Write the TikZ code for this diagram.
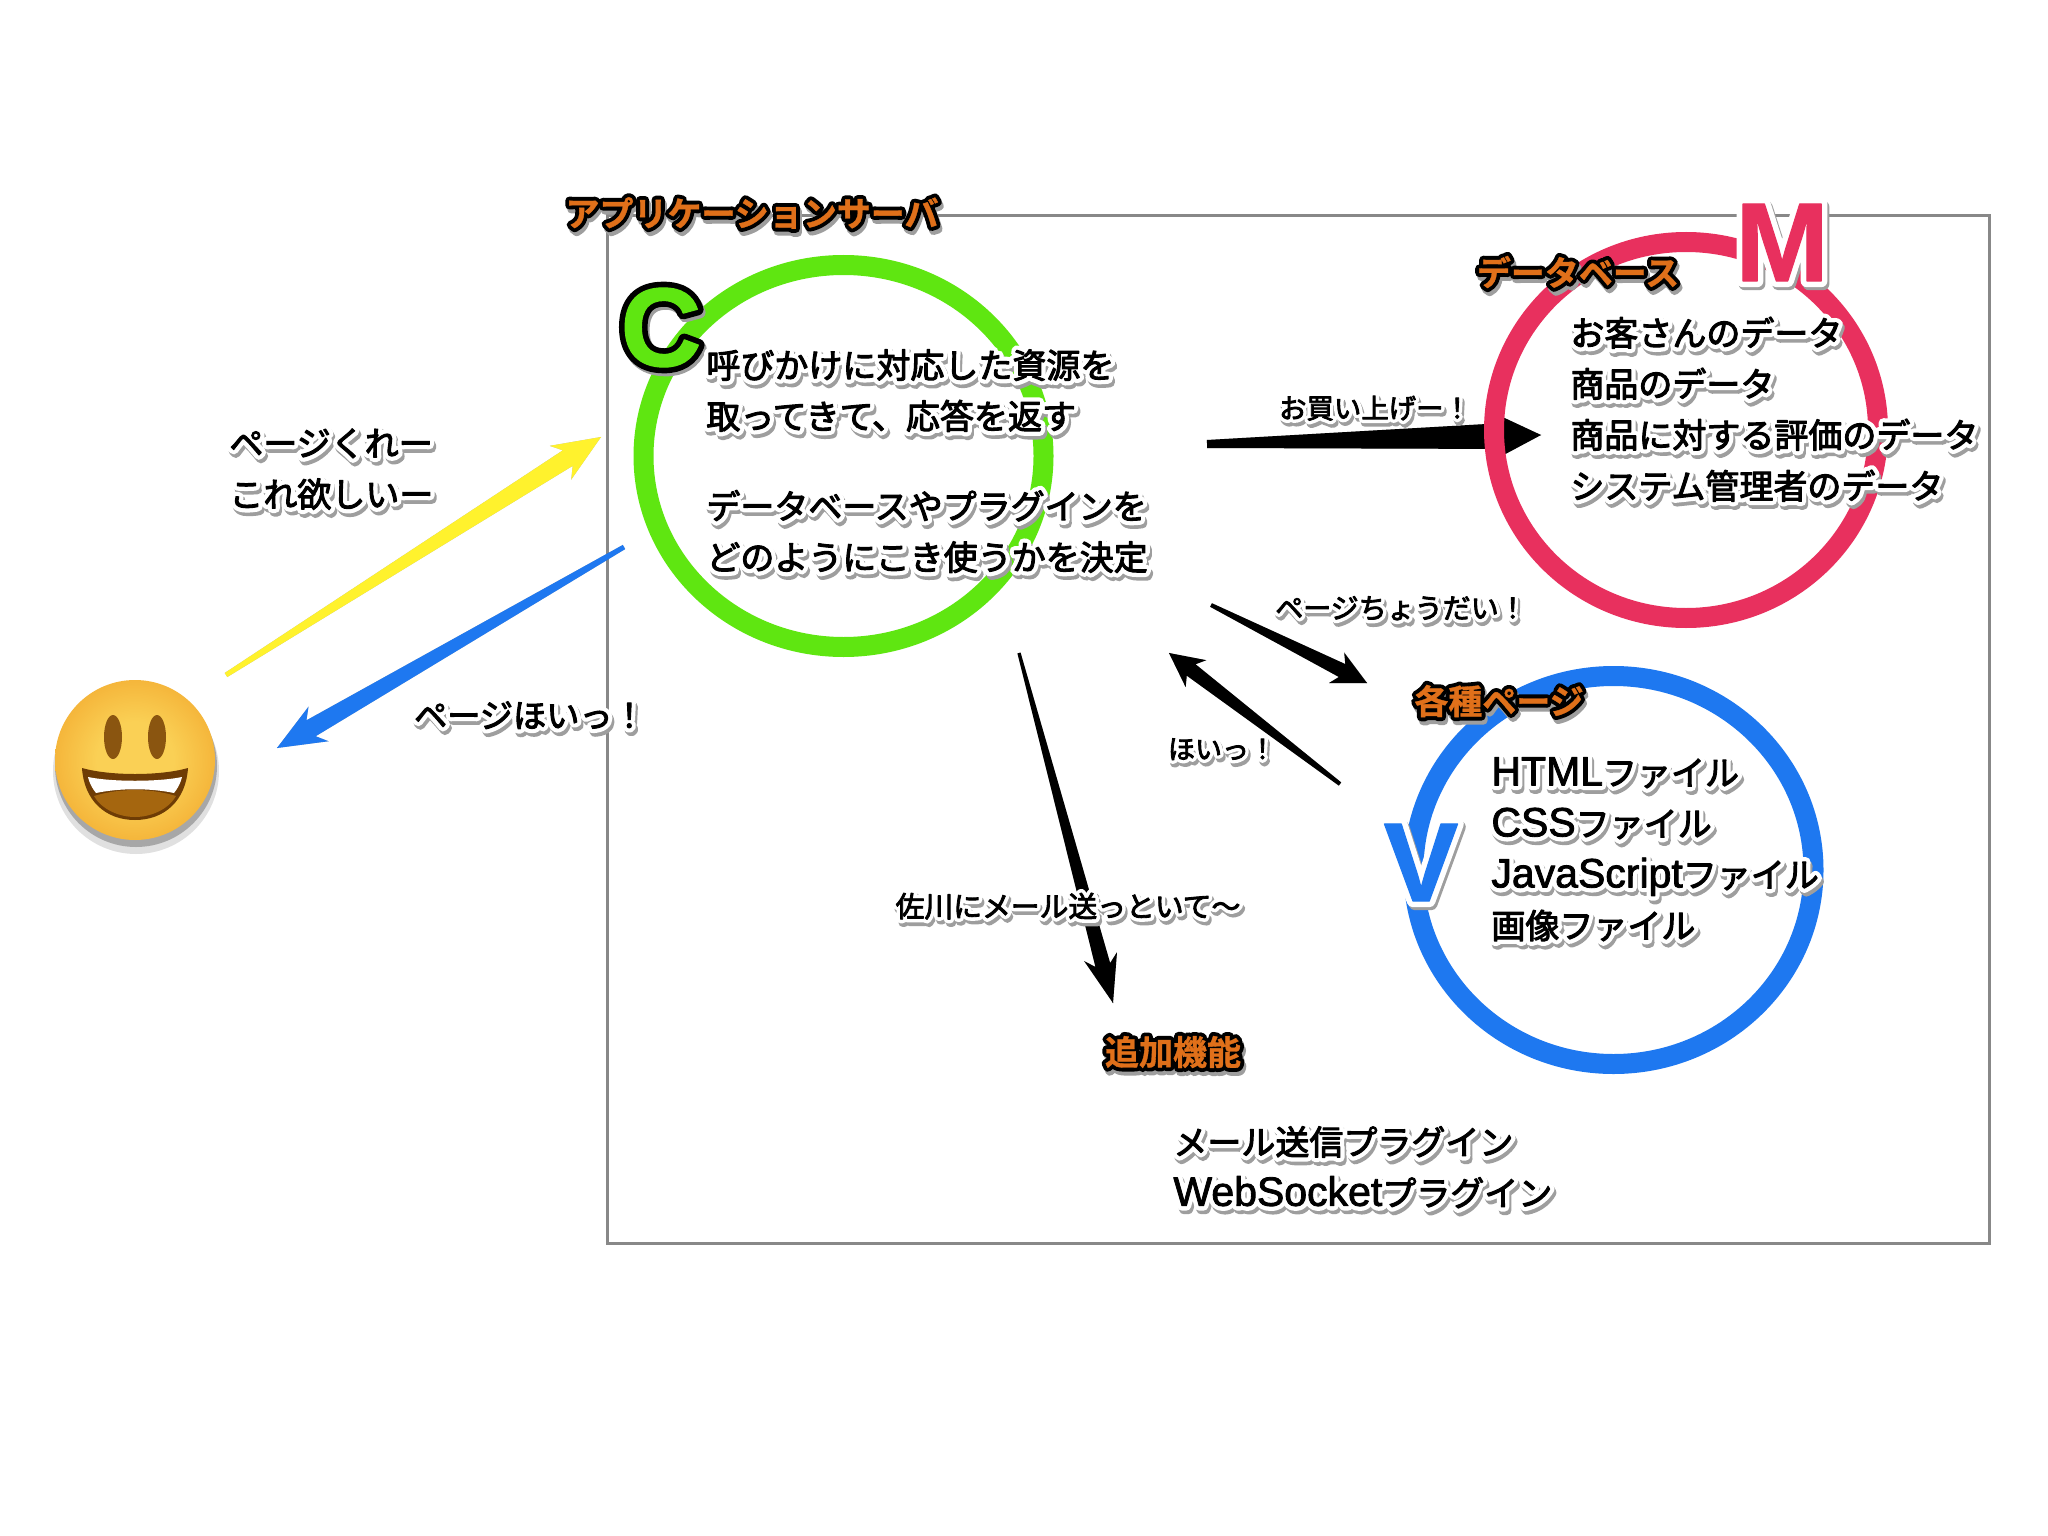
\documentclass[tikz,border=0pt]{standalone}
\usepackage{fontspec}
\usetikzlibrary{shapes.geometric,arrows.meta,calc}
\newfontfamily\jpf[FakeBold=3]{Noto Sans CJK JP}
\newfontfamily\jpo[FakeBold=28]{Noto Sans CJK JP}
\newfontfamily\jph[FakeBold=24]{Noto Sans CJK JP Bold}
\newfontfamily\jpb[FakeBold=1]{Noto Sans CJK JP Bold}
\newfontfamily\ltf[FakeBold=11]{Liberation Sans Bold}
\newfontfamily\ltp[FakeBold=1]{Liberation Sans Bold}
\newfontfamily\lnt[FakeBold=2]{Liberation Sans}
\newfontfamily\lno[FakeBold=23]{Liberation Sans}
\definecolor{shadowc}{gray}{0.62}
\definecolor{orangec}{HTML}{E0701A}
\definecolor{greenc}{HTML}{5FE611}
\definecolor{redc}{HTML}{E8305E}
\definecolor{bluec}{HTML}{1E78F0}
\definecolor{yellowc}{HTML}{FFF22D}
\definecolor{framec}{HTML}{888888}
\definecolor{facein}{HTML}{FAD055}
\definecolor{facemid}{HTML}{F4B237}
\definecolor{faceout}{HTML}{E5861E}
\definecolor{eyec}{HTML}{8A5510}
\definecolor{mouthc}{HTML}{A5660F}
\definecolor{lipc}{HTML}{6E3C05}
\pgfdeclareradialshading{facesh}{\pgfpoint{0bp}{0bp}}{color(0bp)=(facein);color(12bp)=(facein);color(27bp)=(facemid);color(35bp)=(faceout);color(100bp)=(faceout)}
\newcommand\roundj{\special{pdf:code 1 j 1 J}}
\let\curlat\lnt
\newcommand\la[1]{{\curlat\fontsize{20.5}{25.5}\selectfont #1}}
% body text: white halo and soft grey shadow
\newcommand\bt[1]{\leavevmode\roundj\rlap{\let\curlat\lno\kern1pt\raisebox{-1.8pt}{\color{shadowc}\jpo #1}}\rlap{\let\curlat\lno\color{white}\jpo #1}{\color{black}#1}}
% heading: orange with black outline
\newcommand\hd[1]{\leavevmode\roundj\rlap{\kern1pt\raisebox{-2pt}{\color{shadowc}\jph #1}}\rlap{\color{black}\jph #1}{\color{orangec}\jpb #1}}
% letter: coloured with outline
\newcommand\lt[3]{\leavevmode\roundj\rlap{\kern1pt\raisebox{-1.5pt}{\color{shadowc}\ltf #3}}\rlap{\color{#2}\ltf #3}{\color{#1}\ltp #3}}
\newcommand\fs[1]{\fontsize{#1}{25.5}\selectfont}
% tapered connector: #1 from, #2 to, #3 colour, #4 thin half width, #5 thick half width, #6 head length, #7 head half width
\newcommand\conn[7]{%
  \coordinate (sA) at ($(#2)!#6!(#1)$);
  \coordinate (sN) at ($(sA)!.18!(#2)$);
  \begin{scope}[shift={(3,8)},opacity=.28]
    \fill[black] ($(#1)!#4!90:(#2)$) -- ($(sN)!#5!-90:(#1)$) -- ($(sA)!#7!-90:(#1)$) -- (#2) -- ($(sA)!#7!90:(#1)$) -- ($(sN)!#5!90:(#1)$) -- ($(#1)!#4!-90:(#2)$) -- cycle;
  \end{scope}
  \draw[#3,line width=.2pt] (#1) -- (#2);
  \fill[#3] ($(#1)!#4!90:(#2)$) -- ($(sN)!#5!-90:(#1)$) -- ($(sA)!#7!-90:(#1)$) -- (#2) -- ($(sA)!#7!90:(#1)$) -- ($(sN)!#5!90:(#1)$) -- ($(#1)!#4!-90:(#2)$) -- cycle;
}
\tikzset{
  txt/.style={inner sep=0pt,anchor=center,font=\jpf\fs{17},align=left},
  ring/.style={ellipse,draw,inner sep=0pt},
  eye/.style={ellipse,fill=eyec,minimum width=9pt,minimum height=22pt,inner sep=0pt},
  letter/.style={inner sep=0pt,font=\fontsize{56}{56}\selectfont},
}
\begin{document}
\begin{tikzpicture}[x=0.5pt,y=-0.5pt]
\useasboundingbox (0,0) rectangle (2048,1535);
\fill[white] (0,0) rectangle (2048,1535);
% server frame
\node[draw=framec,line width=1.5pt,minimum width=691pt,minimum height=513.5pt,inner sep=0pt] (server) at (1298,729.5) {};
% free ends
\coordinate (yA) at (226,675); \coordinate (yB) at (601,437);
\coordinate (bA) at (624,547); \coordinate (bB) at (277,748);
\coordinate (kA) at (1207,444); \coordinate (kB) at (1541,435);
\coordinate (pA) at (1211,605); \coordinate (pB) at (1367,683);
\coordinate (hA) at (1340,784); \coordinate (hB) at (1169,653);
\coordinate (mA) at (1019,653); \coordinate (mB) at (1113,1003);
\conn{yA}{yB}{yellowc}{1.2pt}{4.6pt}{24pt}{10pt}
\conn{bA}{bB}{bluec}{1.2pt}{4.6pt}{24pt}{10pt}
\conn{kA}{kB}{black}{2pt}{6.5pt}{22pt}{11pt}
\conn{pA}{pB}{black}{1pt}{3.6pt}{17pt}{8.5pt}
\conn{hA}{hB}{black}{1pt}{3.6pt}{17pt}{8.5pt}
\conn{mA}{mB}{black}{.8pt}{3.8pt}{24pt}{8.5pt}
% rings
\node[ring,draw=greenc,line width=10pt,minimum width=200pt,minimum height=191pt] (ctrl) at (843.5,456) {};
\node[ring,draw=redc,line width=10pt,minimum width=192pt,minimum height=188pt] (model) at (1686,430) {};
\node[ring,draw=bluec,line width=10pt,minimum width=200pt,minimum height=194pt] (view) at (1613.5,870) {};
% face
\fill[black,opacity=.12] (136,771) circle [radius=41.5pt];
\fill[black,opacity=.25] (136,766) circle [radius=40.5pt];
\shade[shading=facesh] (135,760) circle [radius=40pt];
\node[eye] (eyeL) at (113,737) {};
\node[eye] (eyeR) at (157,737) {};
\fill[lipc] (82,768) .. controls (110,776) and (160,776) .. (188,768) .. controls (186,800) and (165,820) .. (135,820) .. controls (105,820) and (84,800) .. (82,768) -- cycle;
\fill[mouthc] (94,796) .. controls (120,788) and (150,788) .. (176,796) .. controls (168,810) and (150,817) .. (135,817) .. controls (120,817) and (102,810) .. (94,796) -- cycle;
\fill[white] (88,777) .. controls (112,782) and (158,782) .. (182,777) .. controls (180,785) and (177,789) .. (174,793) .. controls (150,788) and (120,788) .. (96,793) .. controls (93,789) and (90,785) .. (88,777) -- cycle;
% letters
\node[letter] (lC) at (661,329) {\lt{greenc}{black}{C}};
\node[letter] (lM) at (1782,244) {\lt{redc}{white}{M}};
\node[letter] (lV) at (1421,864) {\lt{bluec}{white}{V}};
% headings
\node[txt] (h1) at (752,215) {\hd{アプリケーションサーバ}};
\node[txt] (h2) at (1578,274) {\hd{データベース}};
\node[txt] (h3) at (1499,703) {\hd{各種ページ}};
\node[txt] (h4) at (1173,1054) {\hd{追加機能}};
% body texts
\node[txt,anchor=west] (tC) at (706,463) {\bt{呼びかけに対応した資源を}\\\bt{取ってきて、応答を返す}\\[19.5pt]\bt{データベースやプラグインを}\\\bt{どのようにこき使うかを決定}};
\node[txt,anchor=west] (tM) at (1570,411) {\bt{お客さんのデータ}\\\bt{商品のデータ}\\\bt{商品に対する評価のデータ}\\\bt{システム管理者のデータ}};
\node[txt,anchor=west] (tV) at (1491,851) {\bt{\la{HTML}ファイル}\\\bt{\la{CSS}ファイル}\\\bt{\la{JavaScript}ファイル}\\\bt{画像ファイル}};
\node[txt,anchor=west] (tX) at (1173,1169) {\bt{メール送信プラグイン}\\\bt{\la{WebSocket}プラグイン}};
% arrow labels
\node[txt,anchor=west] (l1) at (229,471) {\bt{ページくれー}\\\bt{これ欲しいー}};
\node[txt,font=\jpf\fs{16.6}] (l2) at (530,717) {\bt{ページほいっ！}};
\node[txt,font=\jpf\fs{13.7}] (l3) at (1375,410) {\bt{お買い上げー！}};
\node[txt,font=\jpf\fs{14}] (l4) at (1401,610) {\bt{ページちょうだい！}};
\node[txt,font=\jpf\fs{13.5}] (l5) at (1222,751) {\bt{ほいっ！}};
\node[txt,font=\jpf\fs{14.4}] (l6) at (1068,908) {\bt{佐川にメール送っといて〜}};
\end{tikzpicture}
\end{document}
